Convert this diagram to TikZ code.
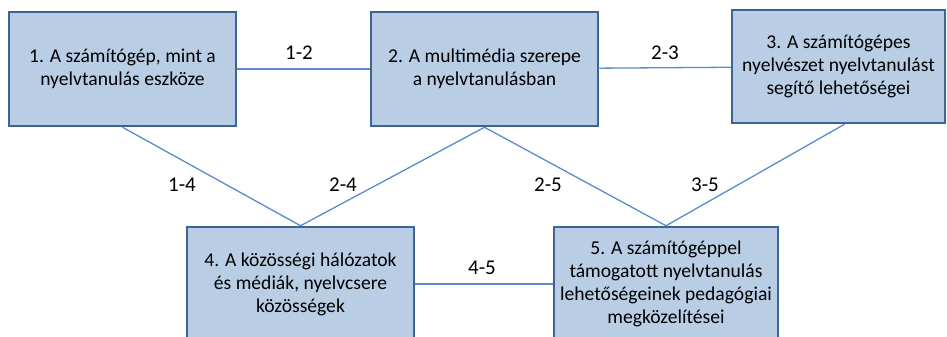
\documentclass[tikz,border=0pt]{standalone}
\usepackage{fontspec}
\setmainfont{Carlito}
\usepackage{xcolor}
\definecolor{boxfill}{HTML}{B9CDE5}
\definecolor{boxline}{HTML}{3E6496}
\definecolor{linkline}{HTML}{5B8BC9}

\begin{document}
\begin{tikzpicture}[x=1pt,y=-1pt,
        topic/.style={draw=boxline,fill=boxfill,line width=2.5pt,align=center,
            inner sep=0pt,font=\fontsize{19.6}{23}\selectfont},
        link/.style={draw=linkline,line width=1.3pt},
        lbl/.style={font=\fontsize{21}{24}\selectfont}]
        % 画布大小（下方两个方框被截断）
        \useasboundingbox (0,0) rectangle (947,337);
        \clip (0,0) rectangle (947,337);
    
        % 五个主题方框
        \node[topic,minimum width=227pt,minimum height=114pt] (b1) at (122.5,69)
            {1. A számítógép, mint a\\nyelvtanulás eszköze};
        \node[topic,minimum width=227pt,minimum height=114pt] (b2) at (484.5,69)
            {2. A multimédia szerepe\\a nyelvtanulásban};
        \node[topic,minimum width=213pt,minimum height=113pt] (b3) at (838.5,66.5)
            {3. A számítógépes\\nyelvészet nyelvtanulást\\segítő lehetőségei};
        \node[topic,minimum width=227pt,minimum height=114pt] (b4) at (300.5,284)
            {4. A közösségi hálózatok\\és médiák, nyelvcsere\\közösségek};
        \node[topic,minimum width=224pt,minimum height=114pt] (b5) at (666,284)
            {5. A számítógéppel\\támogatott nyelvtanulás\\lehetőségeinek pedagógiai\\megközelítései};
    
        % 连接线
        \draw[link] (b1) -- (b2);
        \draw[link] (b2) -- (b3);
        \draw[link] (b4) -- (b5);
        \draw[link] (b1.south) -- (b4.north);
        \draw[link] (b2.south) -- (b4.north);
        \draw[link] (b2.south) -- (b5.north);
        \draw[link] ([xshift=6pt]b3.south) -- (b5.north);
    
        % 连接线的标签
        \node[lbl] (l12) at (299,53) {1-2};
        \node[lbl] (l23) at (665,53) {2-3};
        \node[lbl] (l14) at (182,185) {1-4};
        \node[lbl] (l24) at (343,185) {2-4};
        \node[lbl] (l25) at (548,185) {2-5};
        \node[lbl] (l35) at (705,185) {3-5};
        \node[lbl] (l45) at (482,268) {4-5};
    \end{tikzpicture}
\end{document}
